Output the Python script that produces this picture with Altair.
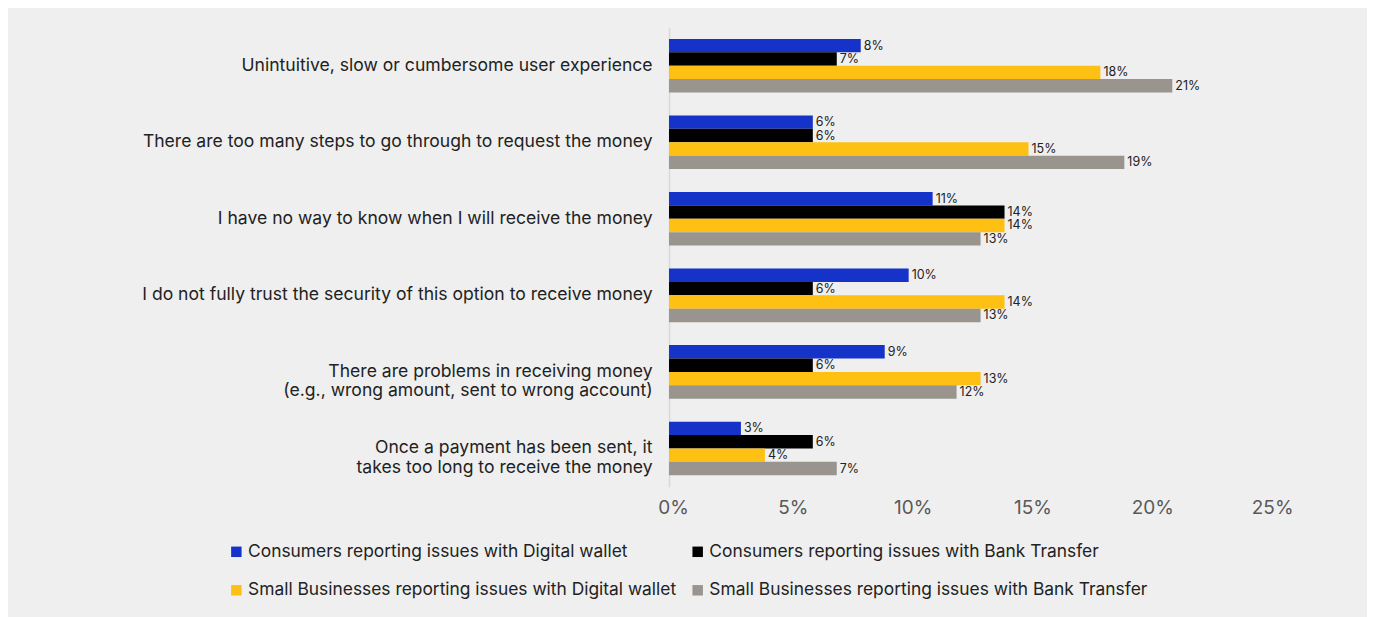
import altair as alt
import pandas as pd

categories = [
    "Unintuitive, slow or cumbersome user experience",
    "There are too many steps to go through to request the money",
    "I have no way to know when I will receive the money",
    "I do not fully trust the security of this option to receive money",
    "There are problems in receiving money\n(e.g., wrong amount, sent to wrong account)",
    "Once a payment has been sent, it\ntakes too long to receive the money",
]
series = [
    "Consumers reporting issues with Digital wallet",
    "Consumers reporting issues with Bank Transfer",
    "Small Businesses reporting issues with Digital wallet",
    "Small Businesses reporting issues with Bank Transfer",
]
consumer_wallet = [8, 6, 11, 10, 9, 3]
consumer_bank = [7, 6, 14, 6, 6, 6]
business_wallet = [18, 15, 14, 14, 13, 4]
business_bank = [21, 19, 13, 13, 12, 7]
colors = ["#1533c9", "#000000", "#fdc013", "#9a948f"]
tick_values = [0, 5, 10, 15, 20, 25]

rows = []
for s, vals in zip(series, [consumer_wallet, consumer_bank, business_wallet, business_bank]):
    for c, v in zip(categories, vals):
        rows.append({"category": c, "series": s, "value": v, "label": f"{v}%"})
df = pd.DataFrame(rows)

font = "Inter"

y_enc = alt.Y(
    "category:N",
    sort=categories,
    scale=alt.Scale(paddingInner=0.3, paddingOuter=0.15),
    axis=alt.Axis(
        title=None,
        ticks=False,
        domain=True,
        domainColor="#d9d9d9",
        domainWidth=1.5,
        labelFont=font,
        labelFontSize=17.6,
        labelColor="#222222",
        labelPadding=17,
        labelLimit=700,
        labelLineHeight=19.5,
        labelExpr="split(datum.label, '\\n')",
    ),
)
yoff = alt.YOffset("series:N", sort=series, scale=alt.Scale(paddingInner=0, paddingOuter=0))

x_enc = alt.X(
    "value:Q",
    scale=alt.Scale(domain=[0, 25], nice=False),
    axis=alt.Axis(
        title=None,
        values=tick_values,
        grid=False,
        ticks=False,
        domain=False,
        labelFlush=False,
        labelOffset=4,
        labelFont=font,
        labelFontSize=19,
        labelColor="#595959",
        labelPadding=12,
        labelExpr="datum.value + '%'",
    ),
)

bars = alt.Chart(df).mark_bar().encode(
    y=y_enc,
    yOffset=yoff,
    x=x_enc,
    color=alt.Color(
        "series:N",
        sort=series,
        scale=alt.Scale(domain=series, range=colors),
        legend=alt.Legend(
            title=None,
            orient="none",
            direction="horizontal",
            legendX=-442,
            legendY=516,
            columns=2,
            columnPadding=13,
            rowPadding=20,
            symbolType="square",
            symbolSize=110,
            symbolStrokeWidth=0,
            labelFont=font,
            labelFontSize=17.4,
            labelColor="#222222",
            labelLimit=600,
            labelOffset=3,
        ),
    ),
)

text = alt.Chart(df).mark_text(
    align="left", baseline="middle", dx=3, font=font, fontSize=12.5, color="#222222"
).encode(
    y=alt.Y("category:N", sort=categories),
    yOffset=alt.YOffset("series:N", sort=series),
    x=alt.X("value:Q"),
    text="label:N",
)

chart = (
    alt.layer(bars, text)
    .properties(
        width=600,
        height=460,
        background="#efefef",
        padding={"left": 662, "top": 19, "right": 99, "bottom": 130},
        autosize=alt.AutoSizeParams(type="none"),
    )
    .configure_view(stroke=None)
)

chart.save("out.html", embed_options={"renderer": "svg", "actions": False})
